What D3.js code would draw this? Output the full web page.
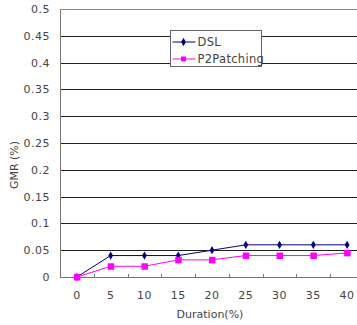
<!DOCTYPE html>
<html>
  <head>
    <script src="https://cdn.jsdelivr.net/npm/d3@7"></script>
    <style>
      body { margin: 0; background: #fff; }
      text { font-family: "DejaVu Sans", sans-serif; fill: #444; }
    </style>
  </head>
  <body>
    <div id="chart"></div>
    <script type="text/javascript">
      var durations = ["0", "5", "10", "15", "20", "25", "30", "35", "40"],
          dsl = [0, 0.04, 0.04, 0.04, 0.05, 0.06, 0.06, 0.06, 0.06],
          p2patching = [0, 0.02, 0.02, 0.032, 0.032, 0.04, 0.04, 0.04, 0.045],
          yTicks = [0, 0.05, 0.1, 0.15, 0.2, 0.25, 0.3, 0.35, 0.4, 0.45, 0.5];

      var svg = d3.select("#chart").append("svg")
          .attr("width", 357)
          .attr("height", 325);

      var plotLeft = 60, plotTop = 9, plotBottom = 277, plotRight = 364;

      var x = d3.scaleBand().domain(durations).range([plotLeft, plotRight]);
      var y = d3.scaleLinear().domain([0, 0.5]).range([plotBottom, plotTop]);

      // gridlines
      svg.selectAll(".grid")
          .data(yTicks.slice(1))
          .enter().append("line")
            .attr("x1", plotLeft).attr("x2", plotRight)
            .attr("y1", function(d) { return Math.round(y(d)) + 0.5; })
            .attr("y2", function(d) { return Math.round(y(d)) + 0.5; })
            .attr("stroke", function(d) { return d == 0.5 ? "#888" : "#222"; })
            .attr("stroke-width", 1);

      // y labels
      svg.selectAll(".ylab")
          .data(yTicks)
          .enter().append("text")
            .text(function(d) { return d; })
            .attr("x", 50)
            .attr("y", function(d) { return y(d) + 4; })
            .style("text-anchor", "end")
            .style("font-size", "11px")
            .style("letter-spacing", "0.5px");

      // axes lines
      svg.append("line")
          .attr("x1", plotLeft + 0.5).attr("x2", plotLeft + 0.5)
          .attr("y1", plotTop).attr("y2", plotBottom)
          .attr("stroke", "#777");
      svg.append("line")
          .attr("x1", plotLeft).attr("x2", plotRight)
          .attr("y1", plotBottom + 0.5).attr("y2", plotBottom + 0.5)
          .attr("stroke", "#777");

      // x ticks at category boundaries
      svg.selectAll(".xtick")
          .data(durations)
          .enter().append("line")
            .attr("x1", function(d) { return Math.round(x(d) + x.bandwidth()) + 0.5; })
            .attr("x2", function(d) { return Math.round(x(d) + x.bandwidth()) + 0.5; })
            .attr("y1", plotBottom - 3).attr("y2", plotBottom)
            .attr("stroke", "#777");

      svg.selectAll(".xlab")
          .data(durations)
          .enter().append("text")
            .text(function(d) { return d; })
            .attr("x", function(d) { return x(d) + x.bandwidth() / 2; })
            .attr("y", 299)
            .style("text-anchor", "middle")
            .style("font-size", "11px")
            .style("letter-spacing", "0.5px");

      svg.append("text")
          .text("Duration(%)")
          .attr("x", 210)
          .attr("y", 318)
          .style("text-anchor", "middle")
          .style("font-size", "11px");

      svg.append("text")
          .text("GMR (%)")
          .attr("transform", "translate(18,165) rotate(-90)")
          .style("text-anchor", "middle")
          .style("font-size", "11px");

      var cx = function(d, i) { return x(durations[i]) + x.bandwidth() / 2; };
      var line = d3.line().x(cx).y(function(d) { return y(d); });

      svg.append("path")
          .attr("d", line(dsl))
          .attr("fill", "none")
          .attr("stroke", "#000080")
          .attr("stroke-width", 1);
      svg.selectAll(".dsl")
          .data(dsl)
          .enter().append("path")
            .attr("d", d3.symbol().type(d3.symbolDiamond).size(20))
            .attr("transform", function(d, i) { return "translate(" + cx(d, i) + "," + y(d) + ")"; })
            .attr("fill", "#000080");

      svg.append("path")
          .attr("d", line(p2patching))
          .attr("fill", "none")
          .attr("stroke", "#ff00ff")
          .attr("stroke-width", 1);
      svg.selectAll(".p2")
          .data(p2patching)
          .enter().append("rect")
            .attr("x", function(d, i) { return cx(d, i) - 3; })
            .attr("y", function(d) { return y(d) - 3; })
            .attr("width", 6.5).attr("height", 6.5)
            .attr("fill", "#ff00ff");

      // legend
      var legend = svg.append("g").attr("transform", "translate(170.5,30.5)");
      legend.append("rect")
          .attr("width", 91).attr("height", 36)
          .attr("fill", "#fff")
          .attr("stroke", "#666");
      var items = [
        { name: "DSL", color: "#000080", shape: "diamond" },
        { name: "P2Patching", color: "#ff00ff", shape: "square" }
      ];
      var li = legend.selectAll(".item")
          .data(items)
          .enter().append("g")
            .attr("transform", function(d, i) { return "translate(0," + (11.5 + i * 17) + ")"; });
      li.append("line")
          .attr("x1", 2).attr("x2", 25)
          .attr("stroke", function(d) { return d.color; });
      li.append("path")
          .attr("d", function(d) {
            return d.shape == "diamond"
              ? d3.symbol().type(d3.symbolDiamond).size(20)()
              : "M-2.5,-2.5h5v5h-5z";
          })
          .attr("transform", "translate(13,0)")
          .attr("fill", function(d) { return d.color; });
      li.append("text")
          .text(function(d) { return d.name; })
          .attr("x", 27)
          .attr("y", 4)
          .style("font-size", "11.5px")
          .style("letter-spacing", "0.3px");
    </script>
  </body>
</html>
